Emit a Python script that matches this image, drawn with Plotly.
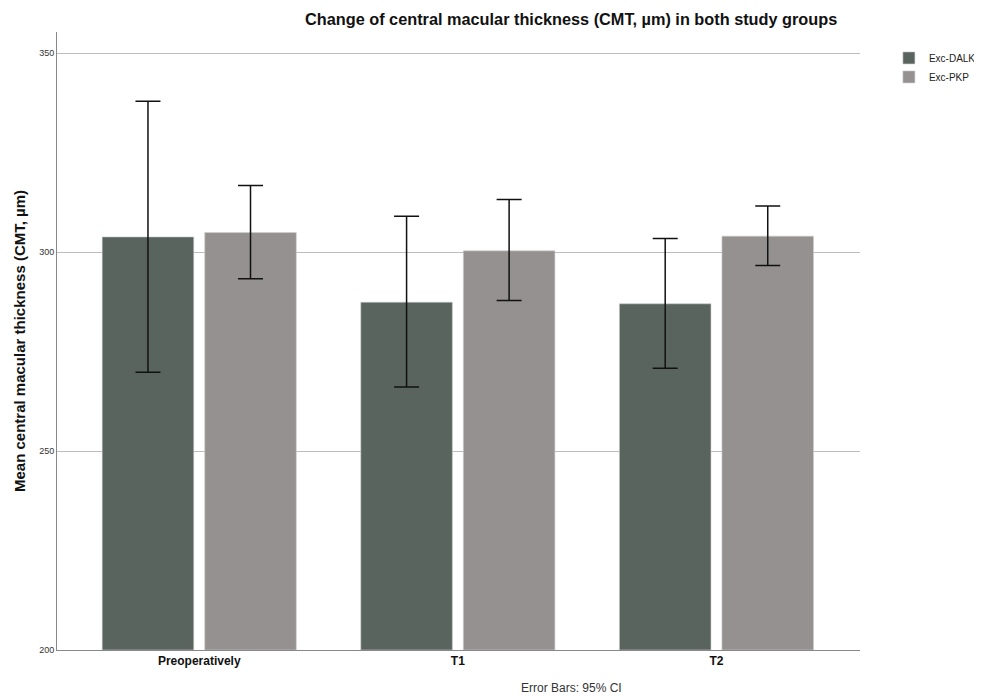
import plotly.graph_objects as go

categories = ["Preoperatively", "T1", "T2"]
dalk_mean = [303.8, 287.4, 287.0]
dalk_upper = [337.9, 309.0, 303.4]
dalk_lower = [269.8, 266.1, 270.8]
pkp_mean = [304.9, 300.3, 304.0]
pkp_upper = [316.7, 313.2, 311.6]
pkp_lower = [293.3, 287.8, 296.6]
y_ticks = [200, 250, 300, 350]

FONT = "Arial, Liberation Sans, sans-serif"

def err(mean, up, lo):
    return dict(type="data", symmetric=False,
                array=[u - m for u, m in zip(up, mean)],
                arrayminus=[m - l for m, l in zip(mean, lo)],
                color="#111111", thickness=1.5, width=12.5)

fig = go.Figure()
fig.add_trace(go.Bar(name="Exc-DALK", x=categories, y=[m - 200 for m in dalk_mean], base=200,
                     marker=dict(color="#5a645f", line=dict(color="#c8cccb", width=0.6)),
                     error_y=err(dalk_mean, dalk_upper, dalk_lower)))
fig.add_trace(go.Bar(name="Exc-PKP", x=categories, y=[m - 200 for m in pkp_mean], base=200,
                     marker=dict(color="#959190", line=dict(color="#d0cdcc", width=0.6)),
                     error_y=err(pkp_mean, pkp_upper, pkp_lower)))

# page has an 8px body margin, so the figure is 8px smaller and offsets shifted
fig.update_layout(
    width=974, height=689,
    margin=dict(l=49, r=122, t=24, b=47, autoexpand=False),
    paper_bgcolor="white", plot_bgcolor="white",
    barmode="group", bargap=0.207, bargroupgap=0.107,
    font=dict(family=FONT, color="#222222"),
    showlegend=True,
    legend=dict(x=1.036, y=0.9815, xanchor="left", yanchor="top",
                font=dict(size=10, family=FONT), tracegroupgap=0,
                itemwidth=30, bgcolor="rgba(0,0,0,0)"),
    xaxis=dict(range=[-0.55, 2.555], showline=True, linecolor="#888888", linewidth=1,
               ticks="", tickfont=dict(size=12, family=FONT, color="#111111"),
               showgrid=False, zeroline=False, automargin=False),
    yaxis=dict(range=[200, 355.3], tickvals=y_ticks, showline=True, linecolor="#888888",
               linewidth=1, ticks="", tickfont=dict(size=9, family=FONT, color="#333333"),
               showgrid=True, gridcolor="#bdbdbd", gridwidth=1, zeroline=False, automargin=False,
               title=dict(text="<b>Mean central macular thickness (CMT, µm)</b>",
                          font=dict(size=15, family=FONT, color="#111111"), standoff=9)),
)

# bold category labels
fig.update_xaxes(tickvals=categories, ticktext=[f"<b>{c}</b>" for c in categories])

fig.add_annotation(text="<b>Change of central macular thickness (CMT, µm) in both study groups</b>",
                   xref="paper", yref="paper", x=(571 - 57) / 803, y=1.0, yshift=13,
                   xanchor="center", yanchor="middle", showarrow=False,
                   font=dict(size=16.3, family=FONT, color="#111111"))
fig.add_annotation(text="Error Bars: 95% CI", xref="paper", yref="paper",
                   x=(571 - 57) / 803, y=0, yshift=-38, xanchor="center", yanchor="middle",
                   showarrow=False, font=dict(size=12, family=FONT, color="#333333"))

fig.write_html("out.html")
